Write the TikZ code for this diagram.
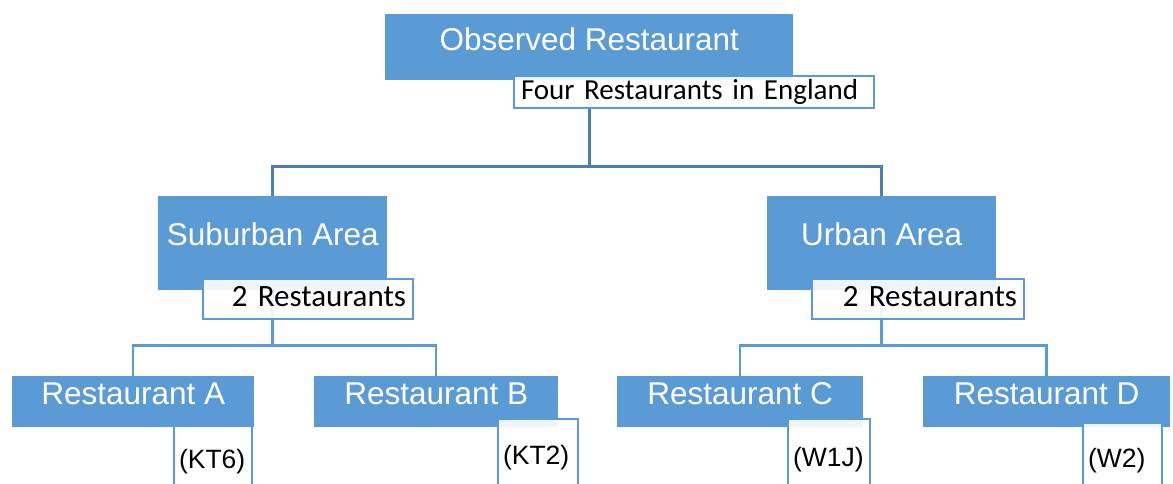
\documentclass[tikz,border=0pt]{standalone}
\usepackage{fontspec}
\setmainfont{Liberation Sans}
\newfontfamily\calibfont{Carlito}
\definecolor{boxblue}{HTML}{5B9BD5}
\definecolor{linkdark}{HTML}{4A7EB5}
\begin{document}
\begin{tikzpicture}[x=1pt,y=-1pt,
  box/.style={fill=boxblue, draw=none, text=white, inner sep=0pt, anchor=north west,
    font=\fontsize{31.5}{36}\selectfont},
  tag/.style={draw=boxblue, line width=2pt, fill=white, fill opacity=0.9, text opacity=1,
    text=black, inner ysep=0pt, anchor=north west},
  areatag/.style={tag, inner xsep=7pt, align=right, text height=27pt, text depth=13pt,
    font=\calibfont\fontsize{31}{36}\selectfont},
  codetag/.style={tag, inner xsep=5pt, align=left, font=\fontsize{26.5}{30}\selectfont},
  link/.style={draw=linkdark, line width=3pt},
  sublink/.style={draw=boxblue, line width=2.5pt}]
\useasboundingbox (0,0) rectangle (1173,484);
\clip (0,0) rectangle (1173,484);

% top level
\node[box, minimum width=408pt, text height=36pt, text depth=30pt] (top) at (385,14) {Observed Restaurant};

% area level
\node[box, minimum width=229pt, text height=49pt, text depth=45pt] (sub) at (158,196) {Suburban Area};
\node[box, minimum width=229pt, text height=49pt, text depth=45pt] (urb) at (767,196) {Urban Area};

% connectors
\draw[link] (top.south) -- ++(0,86) -| (sub.north);
\draw[link] (top.south) -- ++(0,86) -| (urb.north);

% restaurant level
\node[codetag, text width=68pt, text height=49pt, text depth=43pt] (tga) at (173,418) {(KT6)};
\node[box, minimum width=242pt, text height=28pt, text depth=23pt] (ra) at (12,376) {Restaurant A};
\node[box, minimum width=244pt, text height=28pt, text depth=23pt] (rb) at (314,376) {Restaurant B};
\node[box, minimum width=246pt, text height=28pt, text depth=23pt] (rc) at (617,376) {Restaurant C};
\node[box, minimum width=247pt, text height=28pt, text depth=23pt] (rd) at (923,376) {Restaurant D};

\draw[sublink] (sub.south) -- ++(0,55) -| (ra.north);
\draw[sublink] (sub.south) -- ++(0,55) -| (rb.north);
\draw[sublink] (urb.south) -- ++(0,55) -| (rc.north);
\draw[sublink] (urb.south) -- ++(0,55) -| (rd.north);

% tags laid over the boxes
\node[tag, inner xsep=7pt, align=left, text width=346pt, text height=24pt, text depth=8pt,
  font=\calibfont\fontsize{29}{34}\selectfont] (toptag) at (513,75) {Four Restaurants in England};
\node[areatag, text width=196pt] (subtag) at (202,278) {2 Restaurants};
\node[areatag, text width=198pt] (urbtag) at (811,278) {2 Restaurants};
\node[codetag, text width=70pt, text height=45pt, text depth=47pt] (tgb) at (497,418) {(KT2)};
\node[codetag, text width=72pt, text height=47pt, text depth=45pt] (tgc) at (787,418) {(W1J)};
\node[codetag, text width=69pt, text height=44pt, text depth=44pt] (tgd) at (1082,422) {(W2)};
\end{tikzpicture}
\end{document}
